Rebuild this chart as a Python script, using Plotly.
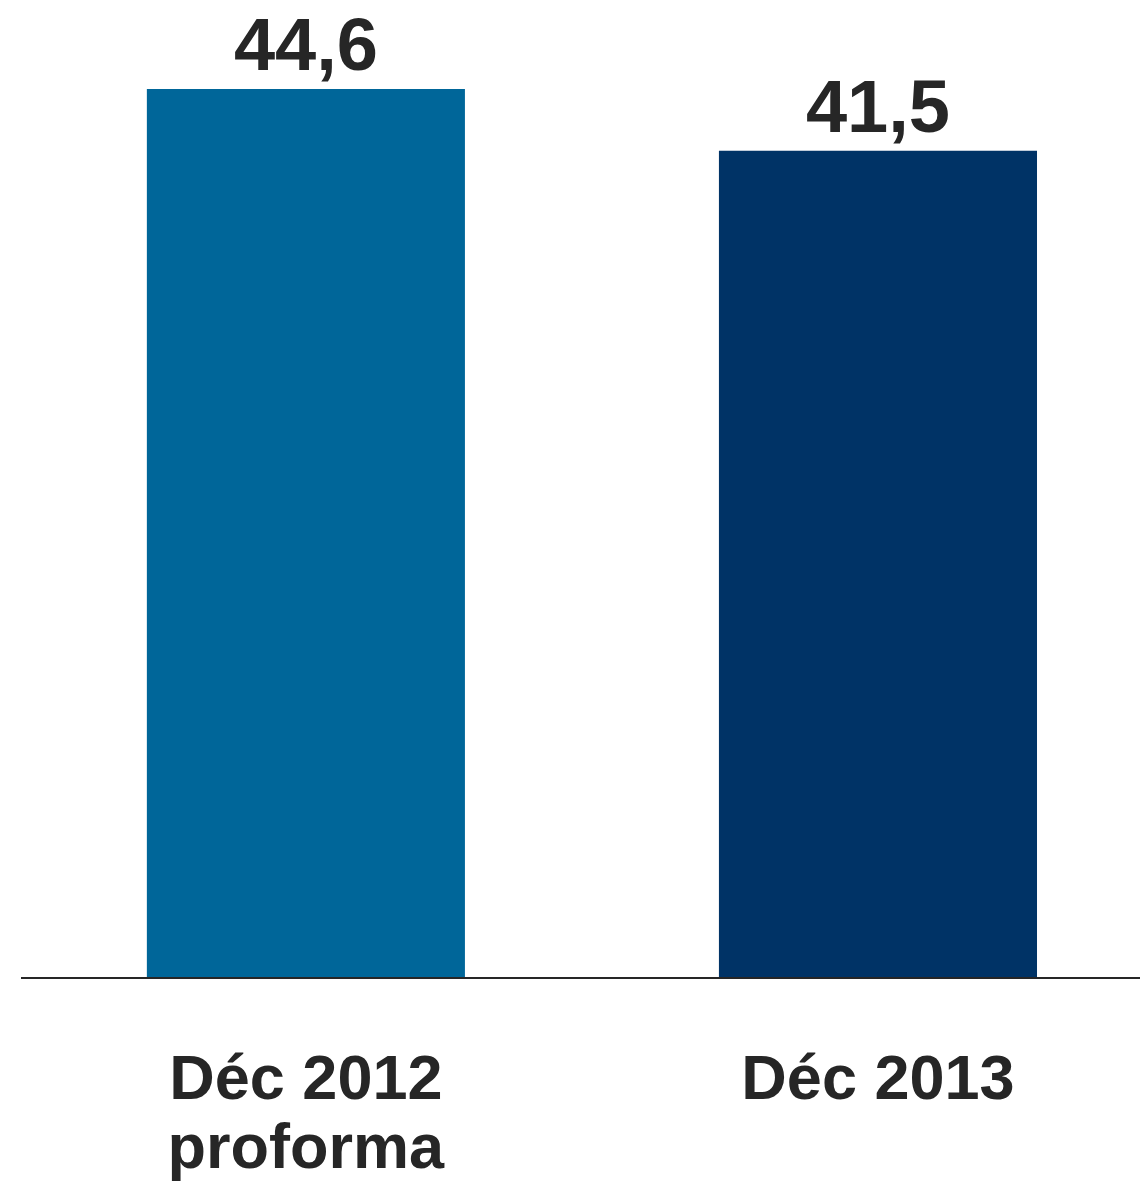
import plotly.graph_objects as go

categories = ["Déc 2012<br>proforma", "Déc 2013"]
values = [44.6, 41.5]
colors = ["#006699", "#003366"]

tick_text = ['<span style="font-size:63px">%s</span>' % c.replace("<br>", '</span><br><span style="font-size:63px">') for c in categories]

fig = go.Figure(
    go.Bar(
        x=categories,
        y=values,
        marker=dict(color=colors, line=dict(width=0)),
        width=0.556,
        texttemplate="%{y:.1f}",
        textposition="outside",
        textfont=dict(family="Liberation Sans", size=74, color="#262626", weight="bold"),
        cliponaxis=False,
    )
)

fig.update_layout(
    width=1148,
    height=1185,
    margin=dict(l=13, r=0, t=0, b=216, autoexpand=False),
    plot_bgcolor="white",
    paper_bgcolor="white",
    separators=",.",
    showlegend=False,
    xaxis=dict(
        range=[-0.498, 1.486],
        automargin=False,
        showline=True,
        linecolor="#262626",
        linewidth=2,
        ticks="",
        tickmode="array",
        tickvals=categories,
        ticktext=tick_text,
        tickfont=dict(family="Liberation Sans", size=53, color="#262626", weight="bold"),
        ticklabelstandoff=56,
    ),
    yaxis=dict(
        range=[0, 48.67],
        visible=False,
        automargin=False,
        showgrid=False,
        zeroline=False,
    ),
)

fig.write_html("out.html")
